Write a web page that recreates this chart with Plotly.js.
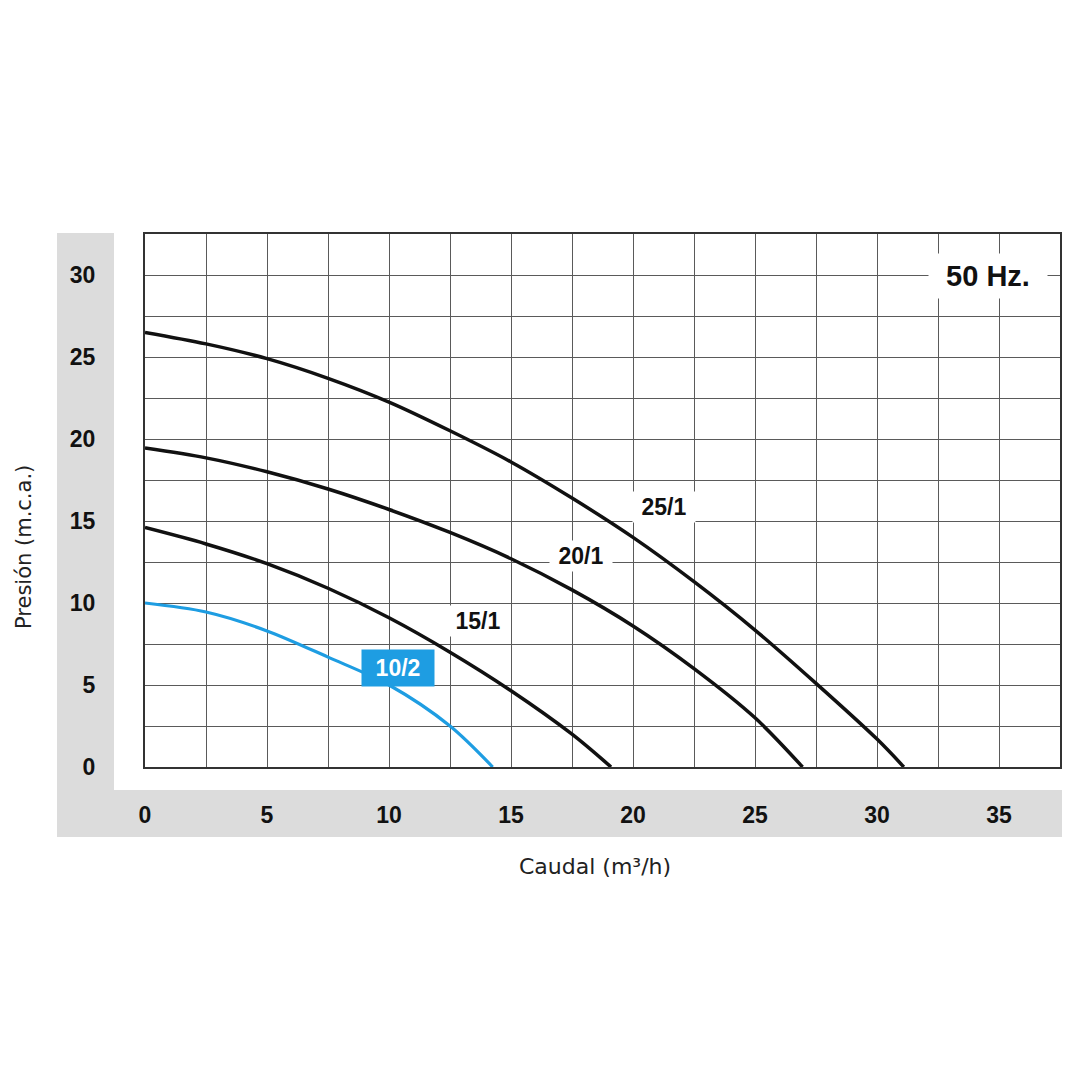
<!DOCTYPE html>
<html>
<head>
<meta charset="utf-8">
<script src="https://cdn.plot.ly/plotly-3.0.1.min.js"></script>
<style>html,body{margin:0;padding:0;background:#fff;}#chart{width:1080px;height:1080px;}</style>
</head>
<body>
<div id="chart"></div>
<script>
// Curve data: flow (m3/h) vs pressure (m.c.a.)
const flow25 = [0, 2.5, 5, 7.5, 10, 12.5, 15, 17.5, 20, 22.5, 25, 27.5, 30, 31.1];
const head25 = [26.5, 25.8, 24.9, 23.7, 22.25, 20.5, 18.6, 16.4, 14.0, 11.3, 8.35, 5.1, 1.7, 0];
const flow20 = [0, 2.5, 5, 7.5, 10, 12.5, 15, 17.5, 20, 22.5, 25, 26.95];
const head20 = [19.45, 18.85, 18.0, 16.95, 15.7, 14.3, 12.7, 10.8, 8.6, 6.0, 3.0, 0];
const flow15 = [0, 2.5, 5, 7.5, 10, 12.5, 15, 17.5, 19.1];
const head15 = [14.6, 13.6, 12.4, 10.9, 9.1, 7.0, 4.65, 2.0, 0];
const flow10 = [0, 2.5, 5, 7.5, 10, 12.5, 14.25];
const head10 = [10.0, 9.45, 8.3, 6.7, 5.0, 2.5, 0];

const curveNames = ['25/1', '20/1', '15/1', '10/2'];
const labelX = [21.27, 17.87, 13.65, 10.37];
const labelY = [15.85, 12.87, 8.9, 6.04];

const xTickVals = [0, 5, 10, 15, 20, 25, 30, 35];
const xTickText = ['0', '5', '10', '15', '20', '25', '30', '35'];
const yTickVals = [0, 5, 10, 15, 20, 25, 30];
const yTickText = ['0', '5', '10', '15', '20', '25', '30'];

const BLUE = '#1e9de2';
const BLACK = '#111111';
const FONT = 'Liberation Sans, Arial, sans-serif';
const TFONT = 'DejaVu Sans, sans-serif';

const mk = (x, y, color, w) => ({
  x: x, y: y, type: 'scatter', mode: 'lines',
  line: {color: color, width: w, shape: 'spline', smoothing: 0.9},
  hoverinfo: 'skip', showlegend: false
});

const data = [
  mk(flow25, head25, BLACK, 3.5),
  mk(flow20, head20, BLACK, 3.5),
  mk(flow15, head15, BLACK, 3.5),
  mk(flow10, head10, BLUE, 3.2)
];

const tickFont = {family: FONT, size: 23, color: '#111', weight: 'bold'};

const annotations = curveNames.map((n, i) => (i === 3 ? {
  x: labelX[i], y: labelY[i], xref: 'x', yref: 'y', text: '<b>' + n + '</b>',
  showarrow: false, font: {family: FONT, size: 23, color: '#fff'},
  bgcolor: BLUE, width: 60, height: 24, borderpad: 6
} : {
  x: labelX[i], y: labelY[i], xref: 'x', yref: 'y', text: '<b>' + n + '</b>',
  showarrow: false, font: {family: FONT, size: 23, color: '#111'},
  bgcolor: '#fff', width: 54, height: 22, borderpad: 4
}));
annotations.push({
  x: 34.55, y: 29.95, xref: 'x', yref: 'y', text: '<b>50 Hz.</b>', showarrow: false,
  font: {family: FONT, size: 29, color: '#111'},
  bgcolor: '#fff', width: 104, height: 30, borderpad: 7
});
annotations.push({
  x: (595 - 145) / 915, y: -(866 - 767) / 533, xref: 'paper', yref: 'paper',
  xanchor: 'center', yanchor: 'middle',
  text: 'Caudal (m³/h)', showarrow: false,
  font: {family: TFONT, size: 22, color: '#222'}
});
annotations.push({
  x: (24 - 145) / 915, y: (767 - 547) / 533, xref: 'paper', yref: 'paper',
  xanchor: 'center', yanchor: 'middle',
  text: 'Presión (m.c.a.)', showarrow: false, textangle: -90,
  font: {family: TFONT, size: 21, color: '#222'}
});

const px = p => (p - 145) / 915;
const py = p => (767 - p) / 533;
const GRAY = '#dcdcdc';

const layout = {
  width: 1080, height: 1080,
  margin: {l: 145, r: 20, t: 234, b: 313},
  paper_bgcolor: '#fff', plot_bgcolor: '#fff',
  showlegend: false,
  xaxis: {
    range: [0, 37.5], tickvals: xTickVals, ticktext: xTickText,
    tickfont: tickFont, ticks: 'outside', ticklen: 26, tickcolor: 'rgba(0,0,0,0)',
    showgrid: true, gridcolor: '#5a5a5a', gridwidth: 1,
    minor: {dtick: 2.5, showgrid: true, gridcolor: '#5a5a5a', gridwidth: 1, ticks: ''},
    showline: true, linecolor: '#333', linewidth: 2, mirror: true,
    zeroline: false, fixedrange: true
  },
  yaxis: {
    range: [0, 32.5], tickvals: yTickVals, ticktext: yTickText,
    tickfont: tickFont, ticks: 'outside', ticklen: 43, tickcolor: 'rgba(0,0,0,0)',
    showgrid: true, gridcolor: '#5a5a5a', gridwidth: 1,
    minor: {dtick: 2.5, showgrid: true, gridcolor: '#5a5a5a', gridwidth: 1, ticks: ''},
    showline: true, linecolor: '#333', linewidth: 2, mirror: true,
    zeroline: false, fixedrange: true
  },
  shapes: [
    {type: 'rect', xref: 'paper', yref: 'paper', x0: px(57), x1: px(114), y0: py(837), y1: py(233),
     fillcolor: GRAY, line: {width: 0}, layer: 'below'},
    {type: 'rect', xref: 'paper', yref: 'paper', x0: px(57), x1: px(1062), y0: py(837), y1: py(790),
     fillcolor: GRAY, line: {width: 0}, layer: 'below'}
  ],
  annotations: annotations
};

Plotly.newPlot('chart', data, layout, {displayModeBar: false, staticPlot: true});
</script>
</body>
</html>
